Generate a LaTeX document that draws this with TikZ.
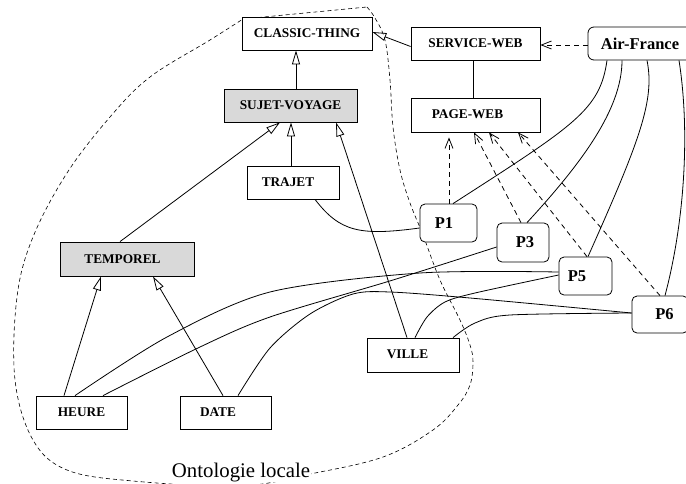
\documentclass[tikz,border=0pt]{standalone}
\usepackage{fontspec}
\setmainfont{Liberation Serif}
\usetikzlibrary{arrows.meta}
\definecolor{shade}{RGB}{217,217,217}
\begin{document}
\begin{tikzpicture}[x=1pt,y=-1pt,
  line width=0.8pt,
  box/.style={draw, rectangle, fill=white, inner sep=0pt, font=\fontsize{13.3}{15}\selectfont\bfseries},
  gbox/.style={box, fill=shade},
  pbox/.style={draw, rectangle, fill=white, rounded corners=5pt, inner sep=0pt, font=\fontsize{16.5}{18}\selectfont\bfseries},
  gen/.style={-{Triangle[open,length=14pt,width=8pt]}},
  inst/.style={dash pattern=on 5pt off 4pt, -{Straight Barb[length=10pt,width=8pt]}},
  zone/.style={dash pattern=on 4pt off 3pt, line width=0.6pt}
]
\useasboundingbox (0,0) rectangle (686,483);
\clip (0,0) rectangle (686,483);

% local ontology boundary
\draw[zone] plot[smooth, tension=0.6] coordinates {(367,7) (375,18) (385,40) (390,80) (393,127) (400,170) (410,203) (423,235) (440,280) (460,320) (470,345) (473,362) (470,385) (458,405) (433,430) (383,457) (310,474) (240,486) (133,481) (67,470) (33,440) (15,380) (17,297) (33,237) (67,173) (110,117) (150,77) (210,40) (243,19)} -- cycle;
\node[font=\fontsize{20.8}{24}\selectfont, anchor=base, fill=white, inner sep=1pt] (lbl) at (241,477) {Ontologie locale};

% nodes
\node[box, minimum width=130pt, minimum height=33pt] (ct) at (307,33.5) {CLASSIC-THING};
\node[gbox, minimum width=133pt, minimum height=33pt] (sv) at (290.5,105.5) {SUJET-VOYAGE};
\node[box, minimum width=129pt, minimum height=33pt] (sw) at (475.5,43.5) {SERVICE-WEB};
\node[pbox, rounded corners=6pt, minimum width=104pt, minimum height=33pt] (af) at (640,43.5) {Air-France};
\node[box, minimum width=129pt, minimum height=34pt] (pw) at (475.5,115) {\raisebox{2pt}{PAGE-WEB}\hspace*{16pt}};
\node[box, minimum width=92pt, minimum height=33pt] (tr) at (293,182.5) {TRAJET\hspace*{10pt}};
\node[gbox, minimum width=134pt, minimum height=34pt] (te) at (127,259) {TEMPOREL\hspace*{9pt}};
\node[box, minimum width=91pt, minimum height=33pt] (he) at (81.5,412.5) {HEURE};
\node[box, minimum width=91pt, minimum height=33pt] (da) at (225.5,412.5) {\raisebox{1.5pt}{DATE}\hspace*{15pt}};
\node[box, minimum width=92pt, minimum height=34pt] (vi) at (413,355) {\raisebox{2pt}{VILLE}\hspace*{11pt}};
\node[pbox, minimum width=57pt, minimum height=38pt] (p1) at (448.5,223) {P1\hspace*{9pt}};
\node[pbox, minimum width=52pt, minimum height=39pt] (p3) at (523,242.5) {\hspace*{4pt}P3};
\node[pbox, minimum width=53pt, minimum height=38pt] (p5) at (585.5,276) {P5\hspace*{17pt}};
\node[pbox, minimum width=56pt, minimum height=37pt] (p6) at (660,314.5) {\hspace*{9pt}P6};

% generalisation arrows
\draw[gen] ([xshift=5.5pt]sv.north) -- ([xshift=-11pt]ct.south);
\draw[gen] ([yshift=-3pt]sw.west) -- ([yshift=1.5pt]ct.east);
\draw[gen] ([xshift=-2pt]tr.north) -- ([xshift=0.5pt]sv.south);
\draw[gen] ([xshift=-7pt]te.north) -- ([xshift=-10.5pt]sv.south);
\draw[gen] ([xshift=-6pt]vi.north) -- ([xshift=45.5pt]sv.south);
\draw[gen] ([xshift=-17.5pt]he.north) -- ([xshift=-26pt]te.south);
\draw[gen] ([xshift=-2.5pt]da.north) -- ([xshift=26pt]te.south);

% plain link
\draw ([xshift=-2.5pt]sw.south) -- ([xshift=-2.5pt]pw.north);

% instance arrows
\draw[inst] ([yshift=-1.5pt]af.west) -- ([yshift=-1.5pt]sw.east);
\draw[inst, shorten >=5pt] ([xshift=0.5pt]p1.north) -- ([xshift=-26.5pt]pw.south);
\draw[inst] ([xshift=-2pt]p3.north) -- ([xshift=-1.5pt]pw.south);
\draw[inst] ([xshift=1.5pt]p5.north) -- ([xshift=13.5pt]pw.south);
\draw[inst] (p6.north) -- ([xshift=42.5pt]pw.south);

% Air-France links
\draw ([xshift=-33pt]af.south) .. controls (600,110) and (575,125) .. ([xshift=4.5pt]p1.north);
\draw ([xshift=-18pt]af.south) .. controls (622,110) and (580,165) .. ([xshift=4pt]p3.north);
\draw ([xshift=7pt]af.south) .. controls (655,100) and (640,140) .. ([xshift=2.5pt]p5.north);
\draw ([xshift=39pt]af.south) .. controls (690,130) and (685,220) .. ([xshift=5pt]p6.north);

% property links
\draw ([xshift=22pt]tr.south) .. controls (340,232) and (360,236) .. ([yshift=-5pt]p1.west);
\draw plot[smooth] coordinates {([xshift=-6.5pt]he.north) (167,337) (270,292) (420,273) ([yshift=4pt]p5.west)};
\draw plot[smooth] coordinates {([xshift=21.5pt]he.north) (200,347) (270,317) (393,280) ([yshift=-4.5pt]p3.west)};
\draw plot[smooth] coordinates {([xshift=12.5pt]da.north) (270,348) (310,314) (353,294) (390,292) (470,298) ([yshift=1.5pt]p6.west)};
\draw plot[smooth] coordinates {([xshift=2pt]vi.north) (427,317) (445,302) (475,293) ([yshift=1pt]p5.west)};
\draw plot[smooth] coordinates {([xshift=40pt]vi.north) (475,323) (510,315) ([yshift=1.5pt]p6.west)};
\end{tikzpicture}
\end{document}
